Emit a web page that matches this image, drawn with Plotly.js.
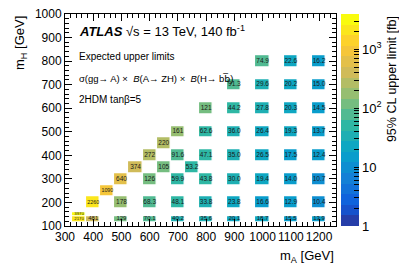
<!DOCTYPE html>
<html><head><meta charset="utf-8">
<script src="https://cdn.plot.ly/plotly-3.0.1.min.js"></script>
<style>html,body{margin:0;padding:0;background:#fff}</style>
</head><body><div id="chart" style="width:399px;height:271px"></div>
<script>
// Data: expected 95% CL upper limits [fb] at (mA, mH) points
const mA = [350,400,500,600,700,800,900,1000,1100,1200,
            350,
            400,500,600,700,800,900,1000,1100,1200,
            450,
            500,600,700,800,900,1000,1100,1200,
            550,650,750,
            600,700,800,900,1000,1100,1200,
            650,
            700,800,900,1000,1100,1200,
            800,900,1000,1100,1200,
            900,1000,1100,1200,
            1000,1100,1200];
const mH = [130,130,130,130,130,130,130,130,130,130,
            150,
            200,200,200,200,200,200,200,200,200,
            250,
            300,300,300,300,300,300,300,300,
            350,350,350,
            400,400,400,400,400,400,400,
            450,
            500,500,500,500,500,500,
            600,600,600,600,600,
            700,700,700,700,
            800,800,800];
const limit = [2170,481,129,70.1,40.2,35.6,20.1,18.7,15.5,13.9,
               3970,
               2260,178,68.3,48.1,33.8,23.8,16.6,12.9,10.4,
               1090,
               640,126,59.9,43.8,30.0,19.4,14.0,10.7,
               374,105,53.2,
               272,91.6,47.1,35.0,26.5,17.5,12.4,
               220,
               161,62.6,36.0,26.4,19.3,13.7,
               121,44.2,27.8,20.3,14.5,
               91.3,29.6,20.2,15.0,
               74.9,22.6,16.2];
const cbarTickLabels = ['1','10','10<sup>2</sup>','10<sup>3</sup>'];

// ---- build cell grid (ROOT-like boxes) ----
const xStep = 50, halfW = 25, halfHmax = 25;
const xMin = Math.min(...mA), xMax = Math.max(...mA);
const xCols = []; for (let v = xMin; v <= xMax; v += xStep) xCols.push(v);
const xEdges = xCols.map(v => v - halfW); xEdges.push(xMax + halfW);

const rowsU = [...new Set(mH)].sort((a,b)=>a-b);
const halfH = rowsU.map((r,i) => {
  let d = Infinity;
  if (i>0) d = Math.min(d, r - rowsU[i-1]);
  if (i<rowsU.length-1) d = Math.min(d, rowsU[i+1]-r);
  return Math.min(halfHmax, d/2);
});
const yEdges = []; const rowMap = {}; let rowCount = 0;
rowsU.forEach((r,i) => {
  const lo = r - halfH[i] - (i===0 ? 4 : 0), hi = r + halfH[i];
  if (yEdges.length === 0) { yEdges.push(lo); }
  else if (yEdges[yEdges.length-1] < lo - 1e-9) { yEdges.push(lo); rowCount++; } // gap row
  rowMap[r] = rowCount; rowCount++;
  yEdges.push(hi);
});
const z = []; for (let i=0;i<rowCount;i++) z.push(new Array(xCols.length).fill(null));
for (let k=0;k<mA.length;k++) {
  z[rowMap[mH[k]]][xCols.indexOf(mA[k])] = Math.log10(limit[k]);
}

// ROOT kBird palette, 20 discrete contour levels
const bR=[0.2082,0.0592,0.0780,0.0232,0.1802,0.5301,0.8186,0.9956,0.9764];
const bG=[0.1664,0.3599,0.5041,0.6419,0.7178,0.7492,0.7328,0.7862,0.9832];
const bB=[0.5293,0.8684,0.8385,0.7914,0.6425,0.4662,0.3499,0.1968,0.0539];
function bird(t){ t=Math.max(0,Math.min(1,t)); const s=t*8; const i=Math.min(7,Math.floor(s)); const f=s-i;
  const c=[bR,bG,bB].map(a=>Math.round(255*(a[i]+(a[i+1]-a[i])*f)));
  return 'rgb('+c.join(',')+')'; }
const nLev = 20; const cscale = [];
for (let i=0;i<nLev;i++){ const c = bird((i+0.99)/nLev); cscale.push([i/nLev,c]); cscale.push([(i+1)/nLev,c]); }

const zmin = 0, zmax = Math.log10(Math.max(...limit));
const cTickVals = [], cTickText = [];
for (let d=0; d<=3; d++) for (let m=1; m<=9; m++) {
  const v = m*Math.pow(10,d); if (Math.log10(v) > zmax) break;
  cTickVals.push(Math.log10(v)); cTickText.push(m===1 ? cbarTickLabels[d] : '');
}

const labels = limit.map(v => v >= 100 ? v.toFixed(0) : v.toFixed(1));
const rowHalf = {}; rowsU.forEach((r,i)=>rowHalf[r]=halfH[i]);
const tsize = limit.map((v,k) => rowHalf[mH[k]] < 20 ? (v>=1000?4.3:6) : (v>=1000 ? 5.3 : 6.5));

const FONT = 'Liberation Sans, Arial, Helvetica, sans-serif';

const heat = {
  type:'heatmap', x:xEdges, y:yEdges, z:z, zmin:zmin, zmax:zmax,
  colorscale:cscale, xgap:1.5, ygap:1, hoverinfo:'skip', zsmooth:false,
  colorbar:{x:1.018, xanchor:'left', y:0.5, yanchor:'middle', len:1, lenmode:'fraction',
    thickness:18, thicknessmode:'pixels', outlinewidth:0, xpad:0, ypad:0,
    ticks:'inside', ticklen:5, tickcolor:'#000', tickwidth:1,
    tickvals:cTickVals, ticktext:cTickText, tickfont:{size:13, family:FONT, color:'#000'}}
};
const txt = {
  type:'scatter', mode:'text', x:mA, y:mH, text:labels,
  textposition:'middle center', textfont:{size:tsize, color:'#1a1a1a', family:FONT},
  hoverinfo:'skip', cliponaxis:false, showlegend:false
};

const axBase = {ticks:'inside', ticklen:7, tickcolor:'#000', tickwidth:1, showline:true, linecolor:'#000',
  linewidth:1, mirror:'ticks', showgrid:false, zeroline:false, tickangle:0,
  minor:{dtick:20, ticks:'inside', ticklen:4, tickcolor:'#000', showgrid:false},
  tickfont:{size:12, family:FONT, color:'#000'}};

const layout = {
  width:399, height:271, margin:{l:65, r:63, t:14, b:45},
  paper_bgcolor:'#fff', plot_bgcolor:'#fff', showlegend:false,
  font:{family:FONT, color:'#000', size:12},
  xaxis:Object.assign({}, axBase, {range:[300,1260], tick0:300, dtick:100, ticklabeloverflow:'allow'}),
  yaxis:Object.assign({}, axBase, {range:[100,1000], tick0:100, dtick:100}),
  annotations:[
    {xref:'paper', yref:'paper', x:0.044, y:0.92, xanchor:'left', yanchor:'middle', showarrow:false,
     text:'<b><i>ATLAS</i></b> √s = 13 TeV, 140 fb<sup>-1</sup>', font:{size:13, family:FONT}},
    {xref:'paper', yref:'paper', x:0.044, y:0.798, xanchor:'left', yanchor:'middle', showarrow:false,
     text:'Expected upper limits', font:{size:10, family:FONT}},
    {xref:'paper', yref:'paper', x:0.044, y:0.697, xanchor:'left', yanchor:'middle', showarrow:false,
     text:'σ(gg→ A) ×  <i>B</i>(A→ ZH) ×  <i>B</i>(H→ b<span style="font-family:DejaVu Sans">b\u0305</span>)', font:{size:9.5, family:FONT}},
    {xref:'paper', yref:'paper', x:0.044, y:0.596, xanchor:'left', yanchor:'middle', showarrow:false,
     text:'2HDM tanβ=5', font:{size:10, family:FONT}},
    {xref:'paper', yref:'paper', x:1, y:-0.142, xanchor:'right', yanchor:'middle', showarrow:false,
     text:'m<sub>A</sub> [GeV]', font:{size:13, family:FONT}},
    {xref:'paper', yref:'paper', x:-0.166, y:1, xanchor:'center', yanchor:'top', showarrow:false, textangle:-90,
     text:'m<sub>H</sub> [GeV]', font:{size:13, family:FONT}},
    {xref:'paper', yref:'paper', x:1.207, y:1, xanchor:'center', yanchor:'top', showarrow:false, textangle:-90,
     text:'95% CL upper limit [fb]', font:{size:12.5, family:FONT}}
  ]
};
Plotly.newPlot('chart', [heat, txt], layout, {staticPlot:true, displayModeBar:false});
</script></body></html>
